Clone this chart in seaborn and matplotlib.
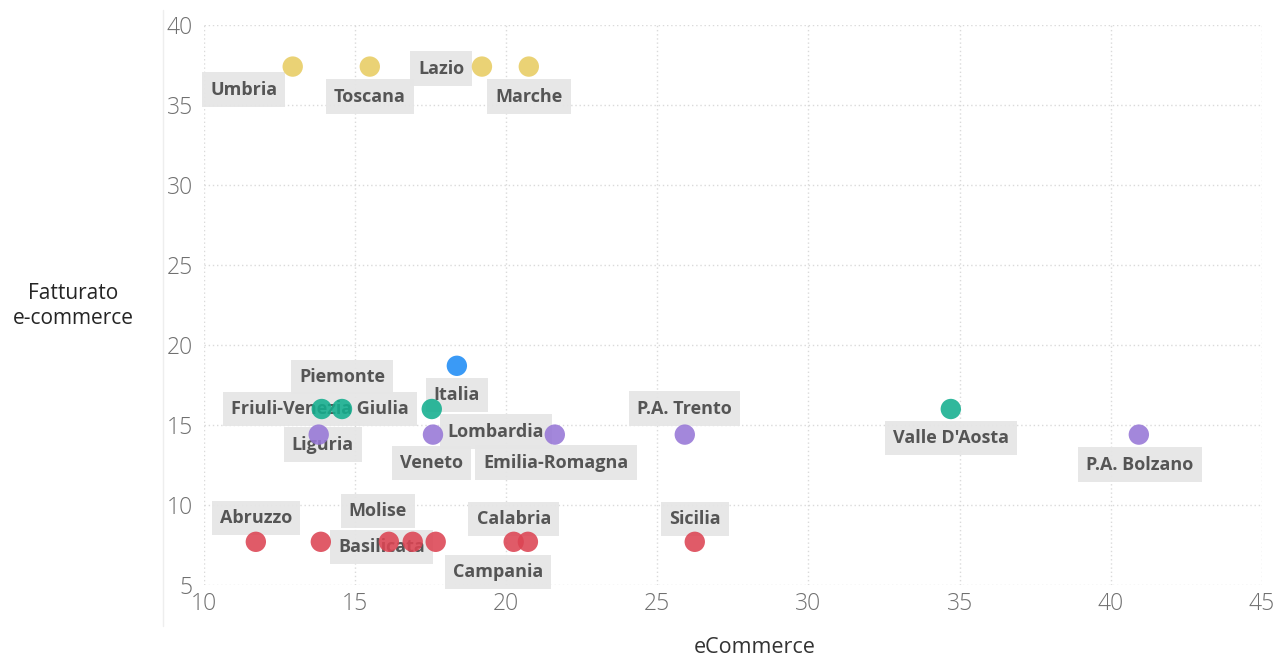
import matplotlib
matplotlib.use("Agg")
import matplotlib.pyplot as plt
import seaborn as sns
import pandas as pd
from matplotlib.lines import Line2D

regioni = ["Umbria", "Toscana", "Lazio", "Marche",
           "Piemonte", "Friuli-Venezia Giulia", "Veneto", "Valle D'Aosta",
           "Lombardia", "Liguria", "Emilia-Romagna", "P.A. Trento", "P.A. Bolzano",
           "Italia",
           "Abruzzo", "Basilicata", "Molise", "Puglia", "Sardegna",
           "Calabria", "Campania", "Sicilia"]
ecommerce = [12.94, 15.49, 19.20, 20.75,
             14.57, 13.90, 17.54, 34.71,
             17.58, 13.80, 21.61, 25.91, 40.93,
             18.37,
             11.72, 13.87, 16.12, 16.91, 17.67,
             20.25, 20.72, 26.24]
fatturato = [37.4, 37.4, 37.4, 37.4,
             16.0, 16.0, 16.0, 16.0,
             14.4, 14.4, 14.4, 14.4, 14.4,
             18.7,
             7.7, 7.7, 7.7, 7.7, 7.7,
             7.7, 7.7, 7.7]
gruppo = ["A"] * 4 + ["B"] * 4 + ["C"] * 5 + ["IT"] + ["D"] * 8

palette = {"A": "#E8CC62", "B": "#13AE8E", "C": "#9676D6",
           "IT": "#1E8CF5", "D": "#DC4453"}

# label offsets in pixels (dx right, dy down), None = label hidden
label_offset = {
    "Umbria": (-49, 23), "Toscana": (0, 30), "Lazio": (-41, 2), "Marche": (0, 30),
    "Piemonte": (0, -32), "Friuli-Venezia Giulia": (-2, 0), "Veneto": (0, 54),
    "Valle D'Aosta": (0, 29), "Lombardia": (63, -3), "Liguria": (4, 10),
    "Emilia-Romagna": (1, 28), "P.A. Trento": (0, -26), "P.A. Bolzano": (1, 30),
    "Italia": (0, 29), "Abruzzo": (0, -24), "Basilicata": (61, 5),
    "Molise": (-11, -31), "Puglia": None, "Sardegna": None,
    "Calabria": (0, -23), "Campania": (-30, 30), "Sicilia": (0, -23),
}

df = pd.DataFrame({"regione": regioni, "eCommerce": ecommerce,
                   "fatturato": fatturato, "gruppo": gruppo})

sns.set_style("white")
plt.rcParams["font.family"] = ["Open Sans", "DejaVu Sans"]

fig = plt.figure(figsize=(12.82, 6.66), dpi=100)
ax = fig.add_axes([0.159, 0.1216, 0.8253, 0.8409])

sns.scatterplot(data=df, x="eCommerce", y="fatturato", hue="gruppo",
                palette=palette, s=215, alpha=0.88, linewidth=0,
                legend=False, zorder=3, ax=ax)

for _, r in df.iterrows():
    off = label_offset[r["regione"]]
    if off is None:
        continue
    ax.annotate(r["regione"], (r["eCommerce"], r["fatturato"]),
                xytext=(off[0], -off[1]), textcoords="offset pixels",
                ha="center", va="center", fontsize=13, fontweight="bold",
                color="#555555", zorder=2,
                bbox=dict(boxstyle="square,pad=0.45", fc="#E6E6E6",
                          ec="none", alpha=0.95))

ax.set_xlim(10, 45)
ax.set_ylim(5, 40)
ax.set_xticks(range(10, 46, 5))
ax.set_yticks(range(5, 41, 5))
ax.grid(True, color="#DADADA", linestyle=(0, (1, 2)), linewidth=1)
for s in ax.spines.values():
    s.set_visible(False)
ax.tick_params(axis="both", length=0, labelsize=16.5, labelcolor="#707070")
for t in ax.get_xticklabels() + ax.get_yticklabels():
    t.set_fontweight("light")
ax.tick_params(axis="x", pad=5)
ax.tick_params(axis="y", pad=8)
ax.set_xlabel("")
ax.set_ylabel("")

fig.text(0.589, 0.012, "eCommerce", ha="center", va="bottom",
         fontsize=15.5, color="#333333")
fig.text(0.057, 0.54, "Fatturato\ne-commerce", ha="center", va="center",
         fontsize=15, color="#252525", linespacing=1.25)

fig.add_artist(Line2D([0.127, 0.127], [0.06, 0.985], color="#EEEEEE",
                      linewidth=1, transform=fig.transFigure))

fig.savefig("out.png", dpi=100)
